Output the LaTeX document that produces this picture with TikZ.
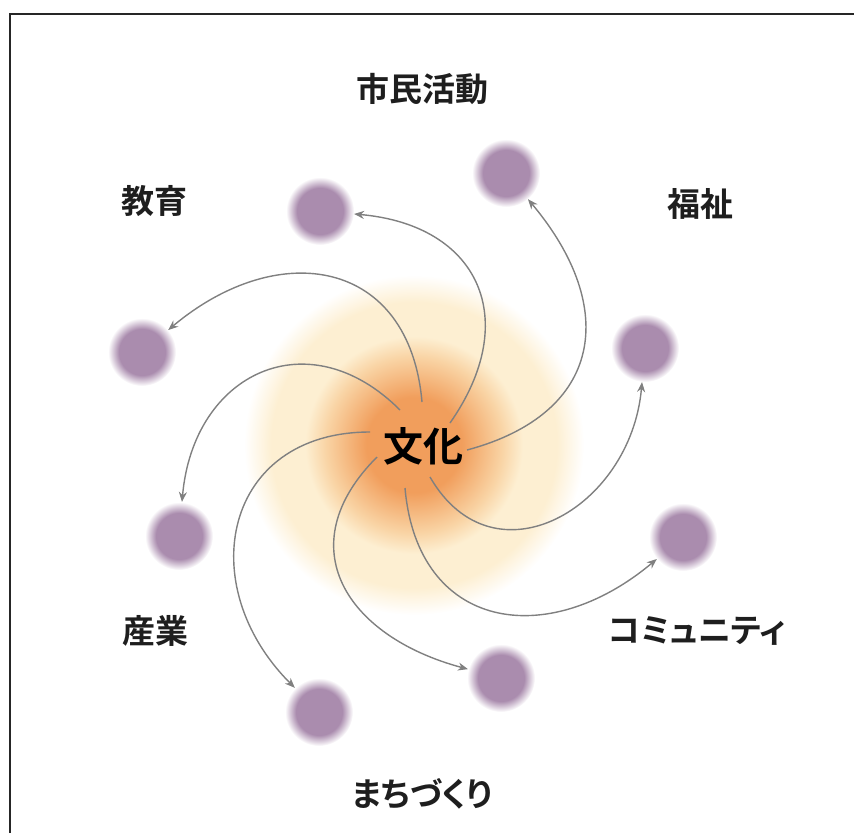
\documentclass[tikz,border=0pt]{standalone}
\usepackage{fontspec}
\newfontfamily\jpfont{Noto Sans CJK JP}[BoldFont={Noto Sans CJK JP Bold},RawFeature=+palt]
\usetikzlibrary{arrows.meta}
\usetikzlibrary{backgrounds}

\definecolor{glowcore}{RGB}{241,158,92}
\definecolor{glowmid}{RGB}{249,212,165}
\definecolor{glowring}{RGB}{253,239,210}
\definecolor{dotpurple}{RGB}{170,140,174}
\definecolor{arrowgray}{RGB}{128,128,128}
\definecolor{labelblack}{RGB}{30,30,30}

\pgfdeclareradialshading{glowshade}{\pgfpoint{0bp}{0bp}}{color(0bp)=(glowcore); color(7bp)=(glowcore); color(13bp)=(glowmid); color(16bp)=(glowring); color(21bp)=(glowring); color(25bp)=(white); color(50bp)=(white)}
\pgfdeclareradialshading{dotshade}{\pgfpoint{0bp}{0bp}}{color(0bp)=(dotpurple); color(17bp)=(dotpurple); color(25bp)=(white); color(50bp)=(white)}

\begin{document}
\begin{tikzpicture}[x=1pt, y=1pt,
    dot/.style={circle, minimum size=68pt, inner sep=0pt, shade, shading=dotshade},
    lbl/.style={font=\jpfont\bfseries\fontsize{33}{33}\selectfont, text=labelblack},
    spoke/.style={line width=1.4pt, arrowgray, -{Stealth[length=10pt, width=8pt]}, looseness=1.4}]
        \useasboundingbox (0,-833) rectangle (854,0);
        \draw[line width=2pt, black!85] (10,-833) -- (10,-14) -- (854,-14);

        % glow behind the centre
        \shade[shading=glowshade] (414,-445) circle (170);

        \node[dot] (circ1) at (506,-173) {};
        \node[dot] (circ2) at (320,-211) {};
        \node[dot] (circ3) at (142,-352) {};
        \node[dot] (circ4) at (179,-536) {};
        \node[dot] (circ5) at (319,-712) {};
        \node[dot] (circ6) at (501,-678) {};
        \node[dot] (circ7) at (683,-537) {};
        \node[dot] (circ8) at (645,-348) {};

        \coordinate (start1) at (467,-450);
        \coordinate (start2) at (450,-423);
        \coordinate (start3) at (422,-402);
        \coordinate (start4) at (400,-410);
        \coordinate (start5) at (370,-432);
        \coordinate (start6) at (377,-457);
        \coordinate (start7) at (405,-488);
        \coordinate (start8) at (430,-477);

        \draw[spoke] (start1) to[out=15, in=-50] (circ1);
        \draw[spoke] (start2) to[out=55, in=-5] (circ2);
        \draw[spoke] (start3) to[out=95, in=40] (circ3);
        \draw[spoke] (start4) to[out=135, in=85] (circ4);
        \draw[spoke] (start5) to[out=180, in=135] (circ5);
        \draw[spoke] (start6) to[out=225, in=165] (circ6);
        \draw[spoke] (start7) to[out=275, in=220] (circ7);
        \draw[spoke] (start8) to[out=300, in=265] (circ8);

        \node[font=\jpfont\bfseries\fontsize{40}{40}\selectfont, text=black] (bunka) at (423,-446) {文化};

        \node[lbl] (shimin) at (422,-89) {市民活動};
        \node[lbl] (kyoiku) at (154,-201) {教育};
        \node[lbl] (fukushi) at (700,-204) {福祉};
        \node[lbl] (sangyo) at (155,-631) {産業};
        \node[lbl] (community) at (697,-631) {コミュニティ};
        \node[lbl] (machi) at (422,-794) {まちづくり};
\end{tikzpicture}
\end{document}
